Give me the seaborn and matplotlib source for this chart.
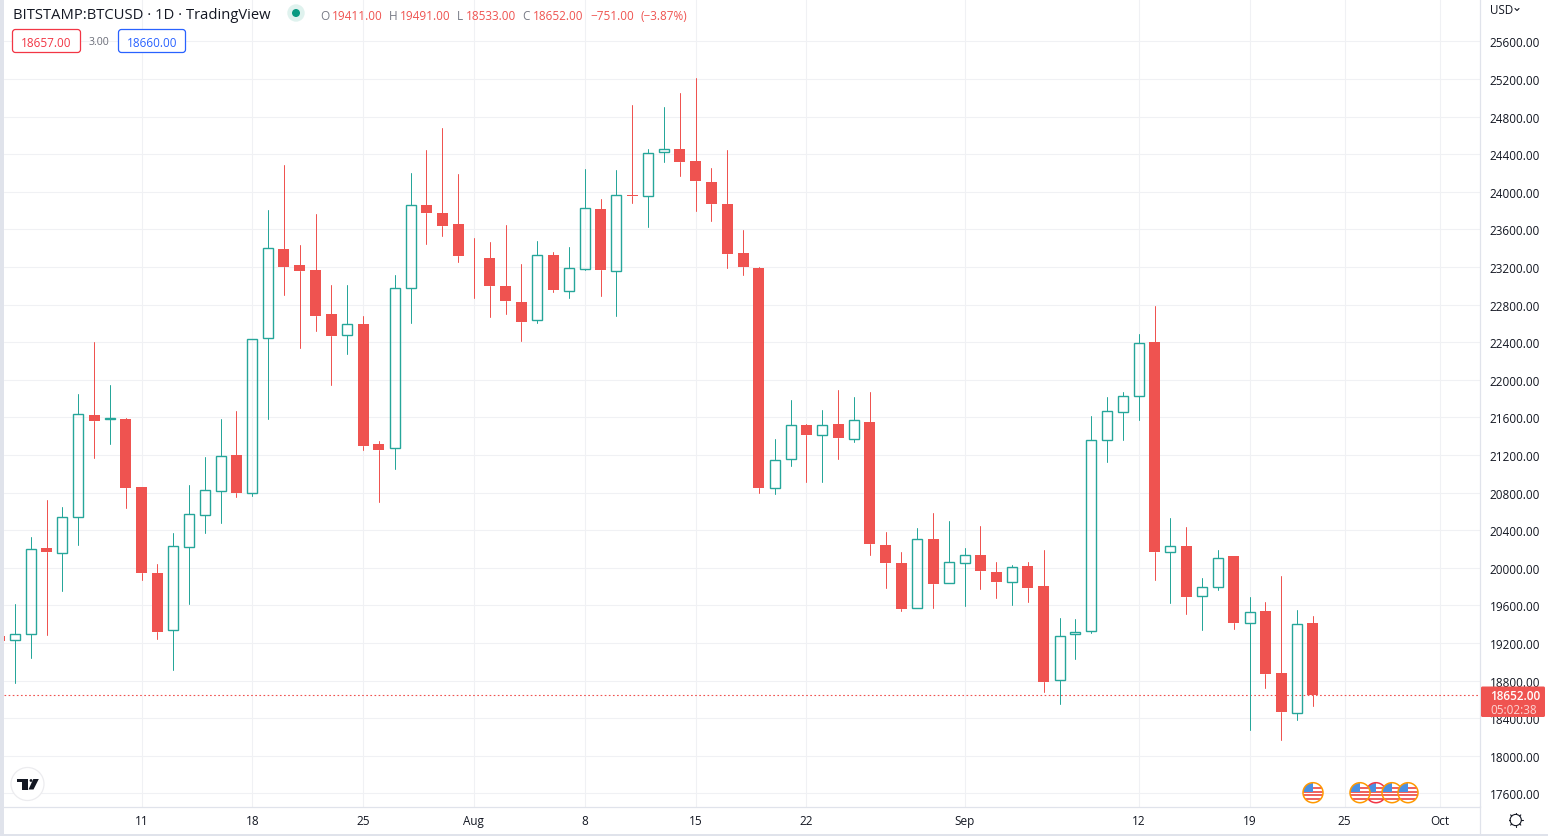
import numpy as np
import pandas as pd
import matplotlib
matplotlib.use("Agg")
import matplotlib.pyplot as plt
import seaborn as sns
from matplotlib.patches import Circle, Rectangle, FancyBboxPatch, Polygon

# ---- data (prices) ----
first_date = "2022-07-02"
opens = [19270,19231,19294,20206,20160,20543,21621,21585,21578,20855,19950,19340,20223,20564,20819,21195,20794,22443,23393,23223,23170,22701,22475,22595,21319,21272,22975,23861,23776,23659,23287,23297,23002,22831,22636,23331,22945,23179,23821,23158,23970,23955,24423,24459,24331,24108,23874,23352,23193,20849,21157,21523,21413,21533,21370,21555,20246,20055,19572,20310,19838,20051,20140,19959,19849,20016,19804,18811,19300,19332,21364,21662,21832,22400,20172,20229,19704,19800,20123,19417,19538,18878,18460,19411]
highs = [19300,19617,20323,20716,20652,21844,22401,21950,21589,20855,20036,20365,20876,21184,21578,21663,22432,23808,24287,23435,23765,23010,23010,22680,21350,23116,24201,24446,24680,24191,23510,23467,23650,23236,23480,23363,23416,24246,23927,24235,24927,24459,24906,25055,25214,24257,24448,23597,23204,21374,21789,21533,21682,21895,21821,21874,20384,20172,20427,20587,20502,20214,20448,20065,20034,20059,20187,19463,19453,21612,21814,21867,22484,22782,20527,20431,19889,20187,20123,19687,19633,19910,19548,19491]
lows = [19170,18773,19039,19284,19752,20241,21167,21316,20635,19869,19241,18911,19614,20369,20475,20752,20769,21588,22897,22343,22524,21950,22279,21258,20705,21056,22609,23450,23535,23248,22865,22673,22696,22409,22601,22931,22867,23170,22888,22675,23877,23622,24314,24165,23792,23686,23186,23111,20792,20782,21079,20909,20909,21154,21335,20133,19782,19537,19572,19569,19838,19590,19771,19675,19601,19637,18680,18552,19031,19307,21126,21360,21573,19871,19626,19509,19339,19765,19350,18275,18722,18169,18382,18533]
closes = [19216,19298,20202,20163,20543,21638,21567,21590,20848,19943,19316,20234,20575,20830,21192,20791,22432,23400,23205,23162,22684,22471,22592,21301,21258,22975,23857,23779,23641,23322,23280,23000,22835,22611,23328,22952,23189,23828,23165,23966,23952,24413,24455,24314,24111,23867,23335,23197,20845,21147,21519,21409,21519,21377,21572,20250,20048,19558,20306,19824,20062,20136,19963,19846,20009,19786,18786,19279,19321,21364,21672,21832,22396,20169,20236,19690,19800,20109,19414,19534,18871,18467,19407,18652]

price_ticks = list(range(17600, 25601, 400))
time_tick_dates = ["2022-07-11","2022-07-18","2022-07-25","2022-08-01","2022-08-08","2022-08-15",
                   "2022-08-22","2022-09-01","2022-09-12","2022-09-19","2022-09-25","2022-10-01"]
time_tick_labels = ["11","18","25","Aug","8","15","22","Sep","12","19","25","Oct"]
last_price = 18652.00

UP, DOWN = "#26a69a", "#ef5350"
TXT, GRID, FRAME, STRIP = "#131722", "#f0f1f4", "#e0e3eb", "#e0e3eb"
W, H = 1548, 837
FONT = "Open Sans"

sns.set_theme(style="white", rc={"axes.facecolor": "white", "figure.facecolor": "white"})
plt.rcParams["font.family"] = [FONT, "DejaVu Sans"]

df = pd.DataFrame({"date": pd.date_range(first_date, periods=len(opens), freq="D"),
                   "open": opens, "high": highs, "low": lows, "close": closes})
df["dir"] = np.where(df.close >= df.open, "up", "down")
df["top"] = df[["open", "close"]].max(axis=1)
df["bot"] = df[["open", "close"]].min(axis=1)
df["candle"] = np.arange(len(df))

# wicks: separate upper and lower parts, hollow bodies are see-through
upper = pd.concat([df.assign(price=df.high), df.assign(price=df.top)]).assign(part="u")
lower = pd.concat([df.assign(price=df.low), df.assign(price=df.bot)]).assign(part="l")
wicks = pd.concat([upper, lower])
wicks["unit"] = wicks.part + wicks.candle.astype(str)

fig = plt.figure(figsize=(W / 100, H / 100), dpi=100)
L, R, T, B = 4, 1480, 0, 807.5
ax = fig.add_axes([L / W, 1 - B / H, (R - L) / W, (B - T) / H])

px_per_day = 15.83
x0 = pd.Timestamp("2022-07-11")
x_anchor, y_anchor = 141.5, 42.4
ax.set_xlim(x0 + pd.Timedelta(days=(L - x_anchor) / px_per_day), x0 + pd.Timedelta(days=(R - x_anchor) / px_per_day))
ax.set_ylim(25600 - (B - y_anchor) / 0.094, 25600 + (y_anchor - T) / 0.094)

sns.lineplot(data=wicks, x="date", y="price", hue="dir", units="unit", estimator=None,
             palette={"up": UP, "down": DOWN}, lw=0.72, legend=False, ax=ax, zorder=3)

d = df[df.dir == "down"]
u = df[df.dir == "up"]
ax.bar(d.date, d.top - d.bot, bottom=d.bot, width=11 / px_per_day, color=DOWN, lw=0, zorder=3)
ax.bar(u.date, u.top - u.bot, bottom=u.bot, width=10 / px_per_day, facecolor="none", edgecolor=UP, lw=1.0, zorder=3)

ax.axhline(last_price, color=DOWN, lw=0.8, ls=(0, (1.5, 2.2)), zorder=2.5)

ax.set_yticks(price_ticks)
ax.set_yticklabels([f"{p:.2f}" for p in price_ticks], fontsize=8.5, color=TXT, ha="left")
ax.yaxis.tick_right()
ax.set_xticks(pd.to_datetime(time_tick_dates))
ax.set_xticklabels(time_tick_labels, fontsize=8.5, color=TXT)
ax.tick_params(axis="y", length=0, pad=7.0)
ax.tick_params(axis="x", length=0, pad=5.4)
ax.set_xlabel(""); ax.set_ylabel("")
ax.grid(True, color=GRID, lw=0.8)
ax.set_axisbelow(True)
for side in ("top", "left"):
    ax.spines[side].set_visible(False)
for side in ("right", "bottom"):
    ax.spines[side].set_color(FRAME)
    ax.spines[side].set_linewidth(0.9)

# ---- chrome drawn in pixel coordinates ----
ov = fig.add_axes([0, 0, 1, 1], zorder=5)
ov.set_xlim(0, W); ov.set_ylim(H, 0); ov.axis("off"); ov.patch.set_alpha(0)

ov.add_patch(Rectangle((0, 0), 4, H, color=STRIP, lw=0))
ov.add_patch(Rectangle((0, 835), W, 2, color=STRIP, lw=0))
ov.plot([1480, 1480], [807, 835], color=FRAME, lw=0.9)

def text(x, y, s, color=TXT, size=8.5, ha="left", **kw):
    ov.text(x, y, s, color=color, fontsize=size, ha=ha, va="center", **kw)

text(13, 15, "BITSTAMP:BTCUSD · 1D · TradingView", size=10.65)
ov.add_patch(Circle((296, 14), 8.7, color="#dff2ee", lw=0))
ov.add_patch(Circle((296, 14), 4, color="#089981", lw=0))

legend_items = [(320.5, "O", "#787b86"), (332, "19411.00", DOWN), (389, "H", "#787b86"), (399.5, "19491.00", DOWN),
                (457, "L", "#787b86"), (465.5, "18533.00", DOWN), (522.5, "C", "#787b86"), (532.5, "18652.00", DOWN),
                (590.5, "−751.00", DOWN), (640.5, "(−3.87%)", DOWN)]
for x, s, c in legend_items:
    text(x, 16, s, color=c, size=8.5)

ov.add_patch(FancyBboxPatch((12.5, 30.5), 68, 23, boxstyle="round,pad=0,rounding_size=3", fc="white", ec="#f23645", lw=0.9))
text(46.5, 43, "18657.00", color="#f23645", ha="center", size=8.5)
text(99, 42.5, "3.00", color="#6a6d78", ha="center", size=7.6)
ov.add_patch(FancyBboxPatch((118.5, 30.5), 67, 23, boxstyle="round,pad=0,rounding_size=3", fc="white", ec="#2962ff", lw=0.9))
text(152, 43, "18660.00", color="#2962ff", ha="center", size=8.5)

text(1490, 10.5, "USD", size=8.4)
ov.plot([1515, 1517, 1519], [9.5, 11.5, 9.5], color=TXT, lw=0.8)

ov.add_patch(FancyBboxPatch((1481, 687.5), 64, 30.5, boxstyle="round,pad=0,rounding_size=1.5", fc=DOWN, ec="none"))
text(1490.5, 696, "18652.00", color="white", size=8.5, fontweight="semibold")
text(1490.5, 710, "05:02:38", color="#fcd4d2", size=8.5)

# TradingView mark
ov.add_patch(Circle((27.5, 785), 16.5, fc="white", ec="#ececef", lw=0.9))
ov.add_patch(Polygon([(17.3, 780), (28.3, 780), (28.3, 790.5), (22.3, 790.5), (22.3, 783), (17.3, 783)], color="#131722", lw=0))
ov.add_patch(Polygon([(33.3, 780), (38.8, 780), (33.5, 790.5), (28.5, 790.5)], color="#131722", lw=0))
ov.add_patch(Circle((31, 781.5), 1.4, color="#131722", lw=0))

# settings gear
ov.add_patch(Circle((1515.7, 821), 5.6, fc="none", ec=TXT, lw=0.8))
for a in np.deg2rad([0, 45, 90, 135, 180, 225, 270, 315]):
    ov.plot([1515.7 + 5.6 * np.cos(a), 1515.7 + 7.2 * np.cos(a)],
            [821 + 5.6 * np.sin(a), 821 + 7.2 * np.sin(a)], color=TXT, lw=0.8)

# economic event flags
def flag(cx, cy, ring):
    disc = Circle((cx, cy), 9.8, fc="white", ec="none")
    ov.add_patch(disc)
    for k in range(4):
        yy = cy - 5.5 + k * 3.6
        st = Rectangle((cx - 10, yy), 20, 1.9, color="#ef6461", lw=0)
        ov.add_patch(st); st.set_clip_path(disc)
    can = Rectangle((cx - 10, cy - 10), 10, 9.5, color="#4a90e2", lw=0)
    ov.add_patch(can); can.set_clip_path(disc)
    ov.add_patch(Circle((cx, cy), 10, fc="none", ec=ring, lw=1.1))

for cx, ring in [(1313, "#ff9800"), (1376, "#f23645"), (1360, "#ff9800"), (1392, "#ff9800"), (1408, "#ff9800")]:
    flag(cx, 793.7, ring)

fig.savefig("out.png", dpi=100)
